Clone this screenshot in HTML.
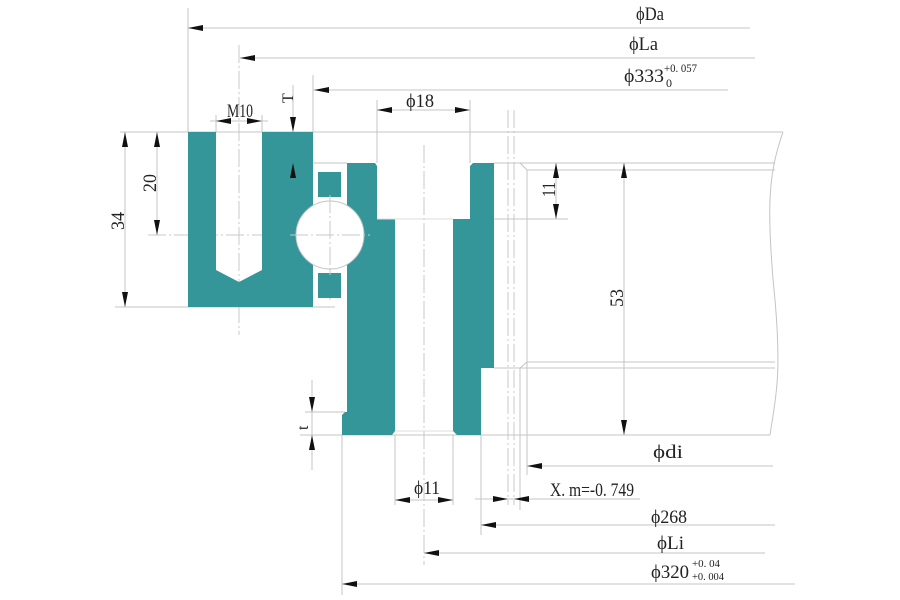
<!DOCTYPE html>
<html><head><meta charset="utf-8"><style>
html,body{margin:0;padding:0;background:#fff;}
svg{display:block}
text{font-family:"Liberation Serif",serif;fill:#222;}
</style></head><body>
<svg width="900" height="600" viewBox="0 0 900 600" xmlns="http://www.w3.org/2000/svg">
<g stroke="#c4c4c4" stroke-width="1" fill="none">
<line x1="120" y1="132" x2="783" y2="132"/>
<line x1="494" y1="163" x2="775" y2="163"/>
<line x1="527" y1="170" x2="775" y2="170"/>
<line x1="527" y1="362" x2="775" y2="362"/>
<line x1="494" y1="368" x2="775" y2="368"/>
<line x1="300" y1="435" x2="770" y2="435"/>
<path d="M783,132 C770,170 765,200 775,300 C782,380 775,400 770,435"/>
<path d="M520,163 L527,170 L527,362 L520,368"/>
<line x1="527" y1="362" x2="527" y2="475"/>
<line x1="481" y1="435" x2="481" y2="535"/>
<line x1="520" y1="368" x2="520" y2="510"/>
<line x1="188" y1="8" x2="188" y2="132"/>
<line x1="313" y1="75" x2="313" y2="132"/>
<line x1="377" y1="100" x2="377" y2="163"/>
<line x1="470" y1="100" x2="470" y2="163"/>
<line x1="216" y1="115" x2="216" y2="132"/>
<line x1="262" y1="115" x2="262" y2="132"/>
<line x1="115" y1="307" x2="335" y2="307"/>
<line x1="470" y1="219" x2="568" y2="219"/>
<line x1="305" y1="412" x2="345" y2="412"/>
<line x1="312" y1="380" x2="312" y2="470"/>
<line x1="293" y1="85" x2="293" y2="190"/>
<line x1="290" y1="163" x2="347" y2="163"/>
<line x1="395" y1="435" x2="395" y2="505"/>
<line x1="453" y1="435" x2="453" y2="505"/>
<line x1="342" y1="435" x2="342" y2="595"/>
<line x1="188" y1="28" x2="750" y2="28"/>
<line x1="240" y1="58" x2="755" y2="58"/>
<line x1="313" y1="90" x2="728" y2="90"/>
<line x1="377" y1="110" x2="470" y2="110"/>
<line x1="210" y1="121" x2="268" y2="121"/>
<line x1="125" y1="132" x2="125" y2="307"/>
<line x1="157" y1="132" x2="157" y2="235"/>
<line x1="556" y1="163" x2="556" y2="219"/>
<line x1="624" y1="163" x2="624" y2="435"/>
<line x1="527" y1="466" x2="773" y2="466"/>
<line x1="475" y1="499" x2="640" y2="499"/>
<line x1="395" y1="500" x2="453" y2="500"/>
<line x1="481" y1="525" x2="775" y2="525"/>
<line x1="424" y1="553" x2="765" y2="553"/>
<line x1="342" y1="584" x2="795" y2="584"/>
</g>
<g stroke="#c8c8c8" stroke-width="1" fill="none" stroke-dasharray="18,3,2,3">
<line x1="239" y1="45" x2="239" y2="335"/>
<line x1="148" y1="235" x2="385" y2="235"/>
<line x1="330" y1="180" x2="330" y2="300"/>
<line x1="424" y1="145" x2="424" y2="565"/>
<line x1="508" y1="110" x2="508" y2="505"/>
<line x1="514" y1="110" x2="514" y2="505"/>
</g>
<path d="M188,132 L216,132 L216,270 L239,282 L262,270 L262,132 L313,132 L313,307 L188,307Z" fill="#35969a"/>
<rect x="318" y="172" width="23" height="25" fill="#35969a"/>
<rect x="318" y="273" width="23" height="25" fill="#35969a"/>
<path d="M347,163 L375,163 L377,166 L377,219 L395,219 L395,431 L392,435 L342,435 L342,415 L345,412 L347,412Z" fill="#35969a"/>
<path d="M470,166 L473,163 L494,163 L494,368 L481,368 L481,435 L457,435 L453,431 L453,219 L470,219Z" fill="#35969a"/>
<circle cx="330" cy="235" r="34" fill="#fff" stroke="#c4c4c4"/>
<g stroke="#c8c8c8" stroke-dasharray="18,3,2,3"><line x1="290" y1="235" x2="370" y2="235"/><line x1="330" y1="195" x2="330" y2="275"/></g>
<g stroke="#ddd"><line x1="377" y1="219" x2="453" y2="219"/><line x1="395" y1="431" x2="453" y2="431"/></g>
<!-- arrowheads -->
<g fill="#111">
<polygon points="188,28 203,25 203,31"/>
<polygon points="240,58 255,55 255,61"/>
<polygon points="314,90 329,87 329,93"/>
<polygon points="377,110 392,107 392,113"/>
<polygon points="470,110 455,107 455,113"/>
<polygon points="216,121 231,118 231,124"/>
<polygon points="262,121 247,118 247,124"/>
<polygon points="293,132 290,117 296,117"/>
<polygon points="293,163 290,178 296,178"/>
<polygon points="125,132 122,147 128,147"/>
<polygon points="125,307 122,292 128,292"/>
<polygon points="157,132 154,147 160,147"/>
<polygon points="157,235 154,220 160,220"/>
<polygon points="556,163 553,178 559,178"/>
<polygon points="556,219 553,204 559,204"/>
<polygon points="624,163 621,178 627,178"/>
<polygon points="624,435 621,420 627,420"/>
<polygon points="312,412 309,397 315,397"/>
<polygon points="312,435 309,450 315,450"/>
<polygon points="527,466 542,463 542,469"/>
<polygon points="508,499 493,496 493,502"/>
<polygon points="514,499 529,496 529,502"/>
<polygon points="395,500 410,497 410,503"/>
<polygon points="453,500 438,497 438,503"/>
<polygon points="481,525 496,522 496,528"/>
<polygon points="424,553 439,550 439,556"/>
<polygon points="342,584 357,581 357,587"/>
</g>
<g font-size="19">
<text x="636" y="20" textLength="28" lengthAdjust="spacingAndGlyphs">ϕDa</text>
<text x="629" y="50" textLength="29" lengthAdjust="spacingAndGlyphs">ϕLa</text>
<text x="624" y="82" textLength="40" lengthAdjust="spacingAndGlyphs">ϕ333</text>
<text x="406" y="107" textLength="28" lengthAdjust="spacingAndGlyphs">ϕ18</text>
<text x="227" y="117" textLength="26" lengthAdjust="spacingAndGlyphs">M10</text>
<text x="653" y="458" textLength="30" lengthAdjust="spacingAndGlyphs">ϕdi</text>
<text x="550" y="496" textLength="84" lengthAdjust="spacingAndGlyphs">X. m=-0. 749</text>
<text x="414" y="494" textLength="26" lengthAdjust="spacingAndGlyphs">ϕ11</text>
<text x="651" y="523" textLength="36" lengthAdjust="spacingAndGlyphs">ϕ268</text>
<text x="657" y="549" textLength="27" lengthAdjust="spacingAndGlyphs">ϕLi</text>
<text x="651" y="578" textLength="38" lengthAdjust="spacingAndGlyphs">ϕ320</text>
<text transform="translate(124,230) rotate(-90)" textLength="18" lengthAdjust="spacingAndGlyphs">34</text>
<text transform="translate(156,192) rotate(-90)" textLength="18" lengthAdjust="spacingAndGlyphs">20</text>
<text transform="translate(555,197) rotate(-90)" textLength="15" lengthAdjust="spacingAndGlyphs">11</text>
<text transform="translate(623,307) rotate(-90)" textLength="18" lengthAdjust="spacingAndGlyphs">53</text>
<text transform="translate(293,103) rotate(-90)" font-size="16">T</text>
<text transform="translate(308,430) rotate(-90)" font-size="16">t</text>
</g>
<g font-size="12">
<text x="664" y="72" textLength="33" lengthAdjust="spacingAndGlyphs">+0. 057</text>
<text x="666" y="87">0</text>
<text x="692" y="567" font-size="11" textLength="28" lengthAdjust="spacingAndGlyphs">+0. 04</text>
<text x="692" y="580" font-size="11" textLength="32" lengthAdjust="spacingAndGlyphs">+0. 004</text>
</g>
</svg>
</body></html>
